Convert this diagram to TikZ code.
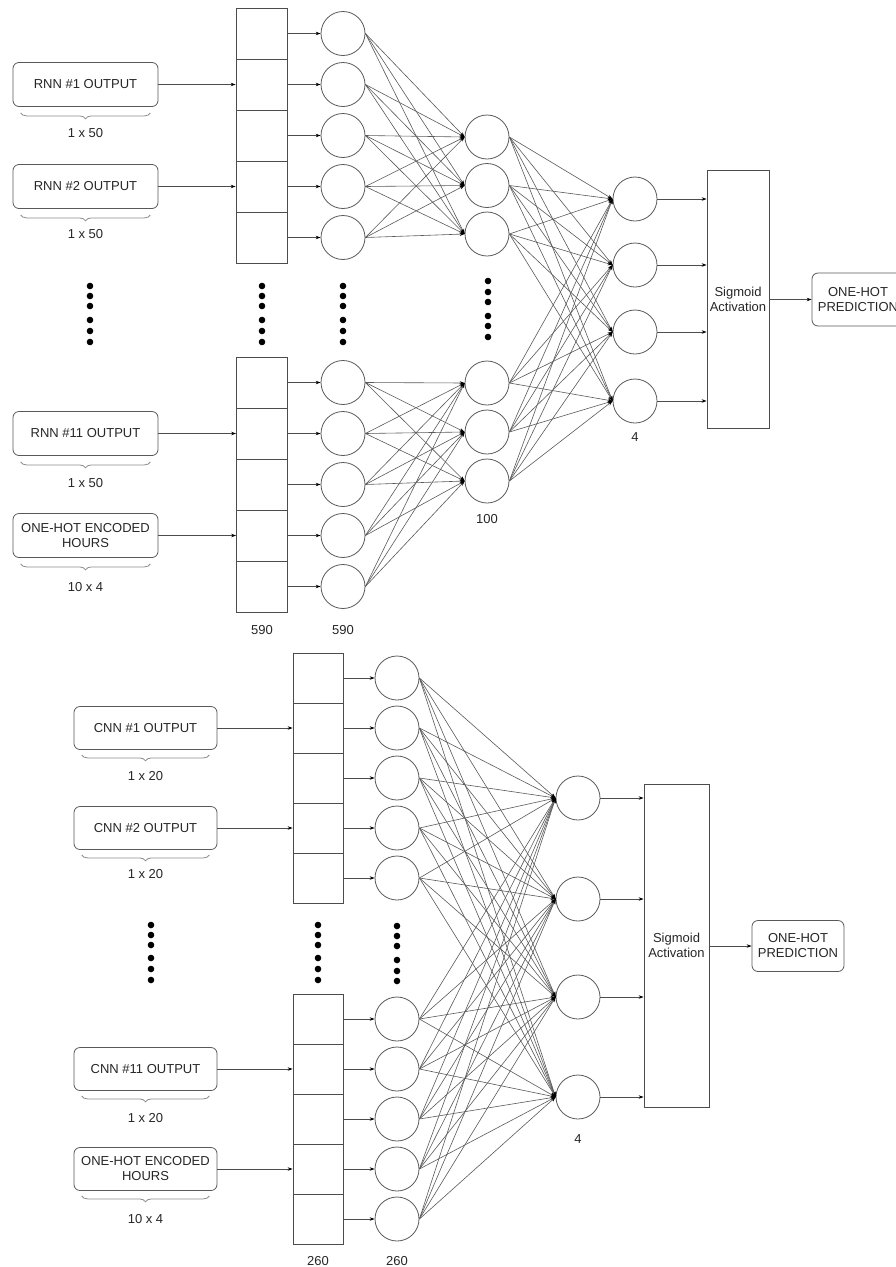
\documentclass[tikz,border=0pt]{standalone}
\usepackage{fontspec}
\setmainfont{Liberation Sans}
\usetikzlibrary{arrows.meta,decorations.pathreplacing,calc}
\begin{document}
\begin{tikzpicture}[x=1pt,y=-1pt,
  every node/.style={font=\fontsize{13}{15}\selectfont, text=black!85},
  inbox/.style={draw=black!65, line width=0.8pt, rounded corners=6pt, minimum width=145pt, minimum height=44pt, align=center, inner sep=0pt},
  cell/.style={draw=black!70, line width=0.8pt, minimum width=51pt, minimum height=51pt, inner sep=0pt},
  cellb/.style={cell, minimum width=50pt, minimum height=50pt},
  neuron/.style={circle, draw=black!65, line width=0.8pt, minimum size=44pt, inner sep=0pt},
  bigbox/.style={draw=black!70, line width=0.8pt, align=center, inner sep=0pt},
  conn/.style={draw=black!65, line width=0.6pt, -{Stealth[length=5pt,width=3.5pt,color=black]}},
  arr/.style={draw=black!70, line width=0.7pt, -{Stealth[length=5pt,width=3.5pt,color=black]}},
  brc/.style={draw=black!45, line width=0.8pt, decorate, decoration={brace, mirror, amplitude=6pt}},
  lab/.style={inner sep=0pt},
]
\useasboundingbox (0,0) rectangle (896,1267);

% ================= TOP NETWORK =================
\node[inbox] (b1) at (85.5,84.5) {RNN \#1 OUTPUT};
\node[inbox] (b2) at (85.5,186.5) {RNN \#2 OUTPUT};
\node[inbox] (b3) at (85.5,433.5) {RNN \#11 OUTPUT};
\node[inbox] (b4) at (85.5,535.5) {ONE-HOT ENCODED\\HOURS};
\foreach \b in {b1,b2,b3,b4}
  \draw[brc] ([xshift=8pt,yshift=-6pt]\b.south west) -- ([xshift=-8pt,yshift=-6pt]\b.south east);
\node[lab] (lb1) at (85.5,133) {1 x 50};
\node[lab] (lb2) at (85.5,234) {1 x 50};
\node[lab] (lb3) at (85.5,483) {1 x 50};
\node[lab] (lb4) at (85.5,587) {10 x 4};

\foreach \k/\y in {1/33.5,2/84.5,3/135.5,4/186.5,5/237.5}
  \node[cell] (a\k) at (261.5,\y) {};
\foreach \k/\y in {1/382.5,2/433.5,3/484.5,4/535.5,5/586.5}
  \node[cell] (aa\k) at (262,\y) {};

\foreach \k/\y in {1/33.5,2/84.5,3/135.5,4/186.5,5/237.5}
  \node[neuron] (n\k) at (343,\y) {};
\foreach \k/\y in {1/382.5,2/433.5,3/484.5,4/535.5,5/586.5}
  \node[neuron] (m\k) at (343,\y) {};

\node[neuron] (h1) at (487,137) {};
\node[neuron] (h2) at (487,185.5) {};
\node[neuron] (h3) at (487,234) {};
\node[neuron] (h4) at (487,383) {};
\node[neuron] (h5) at (487,432) {};
\node[neuron] (h6) at (487,481) {};

\node[neuron] (o1) at (635,199) {};
\node[neuron] (o2) at (635,265) {};
\node[neuron] (o3) at (635,332) {};
\node[neuron] (o4) at (635,401) {};

\node[bigbox, minimum width=62pt, minimum height=258pt] (s1) at (738,299) {Sigmoid\\Activation};
\node[inbox, minimum width=92pt, minimum height=53pt] (pred1) at (858,299.5) {ONE-HOT\\PREDICTION};

\draw[arr] (b1.east) -- (a2.west);
\draw[arr] (b2.east) -- (a4.west);
\draw[arr] (b3.east) -- (aa2.west);
\draw[arr] (b4.east) -- (aa4.west);
\foreach \k in {1,...,5} {
  \draw[arr] (a\k.east) -- (n\k.west);
  \draw[arr] (aa\k.east) -- (m\k.west);
}
\foreach \i in {1,...,5}
  \foreach \j in {1,2,3} {
    \draw[conn] (n\i.east) -- (h\j.west);
  }
\foreach \i in {1,...,5}
  \foreach \j in {4,5,6} {
    \draw[conn] (m\i.east) -- (h\j.west);
  }
\foreach \i in {1,...,6}
  \foreach \j in {1,...,4} {
    \draw[conn] (h\i.east) -- (o\j.west);
  }
\foreach \j in {1,...,4}
  \draw[arr] (o\j.east) -- (o\j.east -| s1.west);
\draw[arr] (s1.east |- pred1.west) -- (pred1.west);

\node[lab] (t590a) at (262,630) {590};
\node[lab] (t590b) at (343,630) {590};
\node[lab] (t100) at (487,519) {100};
\node[lab] (t4a) at (635,437) {4};

\foreach \x in {90,262,343}
  \foreach \y in {286,296,306,320,331,342}
    \fill[black] (\x,\y) circle (3.3pt);
\foreach \y in {281,292,302,316,326,337}
  \fill[black] (488,\y) circle (3.3pt);

% ================= BOTTOM NETWORK =================
\node[inbox, minimum width=143pt, minimum height=43pt] (c1) at (145.5,728) {CNN \#1 OUTPUT};
\node[inbox, minimum width=143pt, minimum height=43pt] (c2) at (145.5,828) {CNN \#2 OUTPUT};
\node[inbox, minimum width=143pt, minimum height=43pt] (c3) at (145.5,1069) {CNN \#11 OUTPUT};
\node[inbox, minimum width=143pt, minimum height=43pt] (c4) at (145.5,1169) {ONE-HOT ENCODED\\HOURS};
\foreach \b in {c1,c2,c3,c4}
  \draw[brc] ([xshift=8pt,yshift=-5pt]\b.south west) -- ([xshift=-8pt,yshift=-5pt]\b.south east);
\node[lab] (lc1) at (145.5,776) {1 x 20};
\node[lab] (lc2) at (145.5,874) {1 x 20};
\node[lab] (lc3) at (145.5,1118) {1 x 20};
\node[lab] (lc4) at (145.5,1219) {10 x 4};

\foreach \k/\y in {1/678,2/728,3/778,4/828,5/878}
  \node[cellb] (d\k) at (318,\y) {};
\foreach \k/\y in {1/1019,2/1069,3/1119,4/1169,5/1219}
  \node[cellb] (dd\k) at (318,\y) {};

\foreach \k/\y in {1/678,2/728,3/778,4/828,5/878}
  \node[neuron] (p\k) at (397,\y) {};
\foreach \k/\y in {1/1019,2/1069,3/1119,4/1169,5/1219}
  \node[neuron] (q\k) at (397,\y) {};

\node[neuron] (r1) at (578,798) {};
\node[neuron] (r2) at (578,899) {};
\node[neuron] (r3) at (578,997) {};
\node[neuron] (r4) at (578,1097) {};

\node[bigbox, minimum width=65pt, minimum height=323pt] (s2) at (676.5,945.5) {Sigmoid\\Activation};
\node[inbox, minimum width=92pt, minimum height=51pt] (pred2) at (798,946) {ONE-HOT\\PREDICTION};

\draw[arr] (c1.east) -- (d2.west);
\draw[arr] (c2.east) -- (d4.west);
\draw[arr] (c3.east) -- (dd2.west);
\draw[arr] (c4.east) -- (dd4.west);
\foreach \k in {1,...,5} {
  \draw[arr] (d\k.east) -- (p\k.west);
  \draw[arr] (dd\k.east) -- (q\k.west);
}
\foreach \i in {1,...,5}
  \foreach \j in {1,...,4} {
    \draw[conn] (p\i.east) -- (r\j.west);
    \draw[conn] (q\i.east) -- (r\j.west);
  }
\foreach \j in {1,...,4}
  \draw[arr] (r\j.east) -- (r\j.east -| s2.west);
\draw[arr] (s2.east |- pred2.west) -- (pred2.west);

\node[lab] (t260a) at (318,1261) {260};
\node[lab] (t260b) at (397,1261) {260};
\node[lab] (t4b) at (578,1139) {4};

\foreach \x in {151,318}
  \foreach \y in {925,935,945,958,969,980}
    \fill[black] (\x,\y) circle (3.3pt);
\foreach \y in {926,936,946,960,971,981}
  \fill[black] (397,\y) circle (3.3pt);
\end{tikzpicture}
\end{document}
